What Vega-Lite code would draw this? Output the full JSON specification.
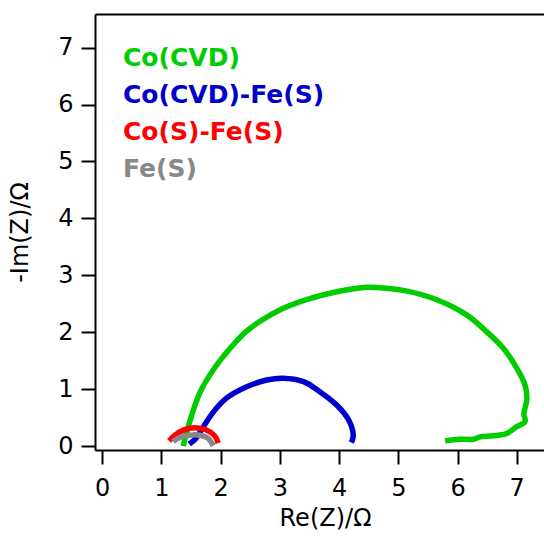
{
  "$schema": "https://vega.github.io/schema/vega-lite/v6.json",
  "width": 449,
  "height": 436,
  "autosize": {"type": "none"},
  "padding": {"left": 95, "top": 14, "right": 0, "bottom": 86},
  "background": "white",
  "config": {"view": {"stroke": null}, "font": "DejaVu Sans"},
  "data": {"values": [
    {"s": "Co(CVD)", "i": 0, "x": 1.37, "y": 0.0},
    {"s": "Co(CVD)", "i": 1, "x": 1.43, "y": 0.25},
    {"s": "Co(CVD)", "i": 2, "x": 1.5, "y": 0.5},
    {"s": "Co(CVD)", "i": 3, "x": 1.58, "y": 0.75},
    {"s": "Co(CVD)", "i": 4, "x": 1.68, "y": 1.0},
    {"s": "Co(CVD)", "i": 5, "x": 1.82, "y": 1.25},
    {"s": "Co(CVD)", "i": 6, "x": 1.99, "y": 1.5},
    {"s": "Co(CVD)", "i": 7, "x": 2.19, "y": 1.75},
    {"s": "Co(CVD)", "i": 8, "x": 2.42, "y": 2.0},
    {"s": "Co(CVD)", "i": 9, "x": 2.68, "y": 2.2},
    {"s": "Co(CVD)", "i": 10, "x": 3.0, "y": 2.39},
    {"s": "Co(CVD)", "i": 11, "x": 3.45, "y": 2.57},
    {"s": "Co(CVD)", "i": 12, "x": 3.96, "y": 2.71},
    {"s": "Co(CVD)", "i": 13, "x": 4.47, "y": 2.79},
    {"s": "Co(CVD)", "i": 14, "x": 4.69, "y": 2.78},
    {"s": "Co(CVD)", "i": 15, "x": 5.11, "y": 2.73},
    {"s": "Co(CVD)", "i": 16, "x": 5.65, "y": 2.57},
    {"s": "Co(CVD)", "i": 17, "x": 6.16, "y": 2.30},
    {"s": "Co(CVD)", "i": 18, "x": 6.49, "y": 2.01},
    {"s": "Co(CVD)", "i": 19, "x": 6.77, "y": 1.72},
    {"s": "Co(CVD)", "i": 20, "x": 7.0, "y": 1.37},
    {"s": "Co(CVD)", "i": 21, "x": 7.14, "y": 1.07},
    {"s": "Co(CVD)", "i": 22, "x": 7.17, "y": 0.81},
    {"s": "Co(CVD)", "i": 23, "x": 7.12, "y": 0.57},
    {"s": "Co(CVD)", "i": 24, "x": 7.14, "y": 0.43},
    {"s": "Co(CVD)", "i": 25, "x": 7.0, "y": 0.34},
    {"s": "Co(CVD)", "i": 26, "x": 6.83, "y": 0.22},
    {"s": "Co(CVD)", "i": 27, "x": 6.6, "y": 0.18},
    {"s": "Co(CVD)", "i": 28, "x": 6.38, "y": 0.16},
    {"s": "Co(CVD)", "i": 29, "x": 6.27, "y": 0.12},
    {"s": "Co(CVD)", "i": 30, "x": 6.04, "y": 0.12},
    {"s": "Co(CVD)", "i": 31, "x": 5.79, "y": 0.09},
    {"s": "Co(CVD)-Fe(S)", "i": 0, "x": 1.47, "y": 0.035},
    {"s": "Co(CVD)-Fe(S)", "i": 1, "x": 1.58, "y": 0.13},
    {"s": "Co(CVD)-Fe(S)", "i": 2, "x": 1.71, "y": 0.34},
    {"s": "Co(CVD)-Fe(S)", "i": 3, "x": 1.88, "y": 0.60},
    {"s": "Co(CVD)-Fe(S)", "i": 4, "x": 2.10, "y": 0.84},
    {"s": "Co(CVD)-Fe(S)", "i": 5, "x": 2.44, "y": 1.04},
    {"s": "Co(CVD)-Fe(S)", "i": 6, "x": 2.78, "y": 1.16},
    {"s": "Co(CVD)-Fe(S)", "i": 7, "x": 3.06, "y": 1.19},
    {"s": "Co(CVD)-Fe(S)", "i": 8, "x": 3.40, "y": 1.13},
    {"s": "Co(CVD)-Fe(S)", "i": 9, "x": 3.68, "y": 0.95},
    {"s": "Co(CVD)-Fe(S)", "i": 10, "x": 3.96, "y": 0.72},
    {"s": "Co(CVD)-Fe(S)", "i": 11, "x": 4.16, "y": 0.46},
    {"s": "Co(CVD)-Fe(S)", "i": 12, "x": 4.24, "y": 0.19},
    {"s": "Co(CVD)-Fe(S)", "i": 13, "x": 4.21, "y": 0.06},
    {"s": "Co(S)-Fe(S)", "i": 0, "x": 1.13, "y": 0.09},
    {"s": "Co(S)-Fe(S)", "i": 1, "x": 1.23, "y": 0.19},
    {"s": "Co(S)-Fe(S)", "i": 2, "x": 1.37, "y": 0.28},
    {"s": "Co(S)-Fe(S)", "i": 3, "x": 1.57, "y": 0.32},
    {"s": "Co(S)-Fe(S)", "i": 4, "x": 1.76, "y": 0.28},
    {"s": "Co(S)-Fe(S)", "i": 5, "x": 1.90, "y": 0.18},
    {"s": "Co(S)-Fe(S)", "i": 6, "x": 1.96, "y": 0.05},
    {"s": "Fe(S)", "i": 0, "x": 1.20, "y": 0.08},
    {"s": "Fe(S)", "i": 1, "x": 1.31, "y": 0.15},
    {"s": "Fe(S)", "i": 2, "x": 1.48, "y": 0.19},
    {"s": "Fe(S)", "i": 3, "x": 1.65, "y": 0.19},
    {"s": "Fe(S)", "i": 4, "x": 1.79, "y": 0.135},
    {"s": "Fe(S)", "i": 5, "x": 1.875, "y": 0.005}
  ]},
  "layer": [
    {
      "mark": {"type": "line", "strokeWidth": 5.5, "clip": true, "interpolate": "catmull-rom"},
      "encoding": {
        "x": {"field": "x", "type": "quantitative",
          "scale": {"domain": [-0.12, 7.46], "nice": false, "zero": false},
          "axis": {"orient": "bottom", "values": [0, 1, 2, 3, 4, 5, 6, 7], "title": "Re(Z)/Ω", "grid": false,
            "tickSize": 14, "tickWidth": 2, "tickColor": "black", "domainColor": "black", "domainWidth": 2,
            "labelFont": "DejaVu Sans", "labelFontSize": 24, "labelColor": "black", "labelPadding": 12,
            "titleFont": "DejaVu Sans", "titleFontSize": 24, "titleFontWeight": "normal", "titleColor": "black", "titlePadding": 6, "titleX": 230}},
        "y": {"field": "y", "type": "quantitative",
          "scale": {"domain": [-0.07, 7.59], "nice": false, "zero": false},
          "axis": {"orient": "left", "values": [0, 1, 2, 3, 4, 5, 6, 7], "title": "-Im(Z)/Ω", "grid": false,
            "tickSize": 14, "tickWidth": 2, "tickColor": "black", "domainColor": "black", "domainWidth": 2,
            "labelFont": "DejaVu Sans", "labelFontSize": 24, "labelColor": "black", "labelPadding": 8,
            "titleFont": "DejaVu Sans", "titleFontSize": 24, "titleFontWeight": "normal", "titleColor": "black", "titlePadding": 25}},
        "color": {"field": "s", "type": "nominal",
          "scale": {"domain": ["Co(CVD)", "Co(CVD)-Fe(S)", "Co(S)-Fe(S)", "Fe(S)"], "range": ["#00CC00", "#0000CC", "#FF0000", "#888888"]},
          "legend": {"orient": "none", "legendX": 3, "legendY": 31, "title": null,
            "labelFont": "DejaVu Sans", "labelFontSize": 25, "labelFontWeight": "bold", "labelLimit": 400,
            "symbolSize": 0, "symbolStrokeWidth": 0, "symbolOpacity": 0, "labelOffset": 0, "rowPadding": 11, "padding": 0,
            "encode": {"labels": {"update": {"fill": {"scale": "color", "field": "value"}}}}}},
        "order": {"field": "i"}
      }
    },
    {
      "mark": {"type": "point", "opacity": 0},
      "encoding": {
        "x": {"field": "x", "type": "quantitative",
          "axis": {"orient": "top", "ticks": false, "labels": false, "title": null, "grid": false, "domainColor": "black", "domainWidth": 2}},
        "y": {"field": "y", "type": "quantitative", "axis": null}
      }
    }
  ],
  "resolve": {"axis": {"x": "independent", "y": "independent"}}
}
